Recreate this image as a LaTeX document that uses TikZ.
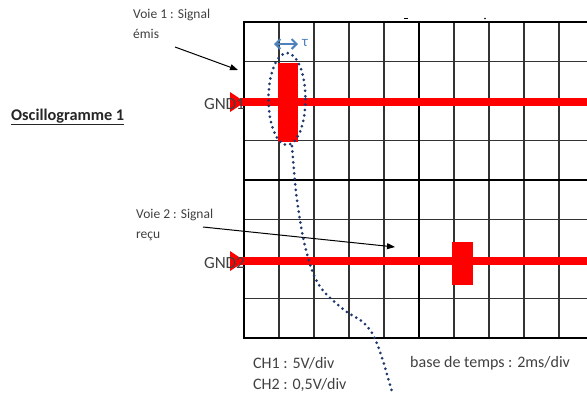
\documentclass[tikz,border=0pt]{standalone}
\usepackage{fontspec}
\setmainfont{Carlito}
\usetikzlibrary{arrows.meta}
\definecolor{txtgray}{RGB}{64,64,64}
\definecolor{taublue}{RGB}{79,129,189}
\definecolor{dotnavy}{RGB}{31,56,110}
\definecolor{sigred}{RGB}{255,0,0}
\tikzset{
  thinline/.style={line width=1.3pt, black!80},
  thickline/.style={line width=2.6pt, black},
  sigline/.style={line width=8pt, sigred},
  pulse/.style={fill=sigred, draw=none},
  gndtri/.style={fill=sigred, draw=none},
  lbl/.style={inner sep=0pt, text=txtgray, font=\fontsize{13.5}{19.5}\selectfont, align=left},
  gndlbl/.style={inner sep=0pt, text=txtgray, font=\fontsize{17}{20}\selectfont},
  botlbl/.style={inner sep=0pt, text=txtgray, font=\fontsize{16}{22}\selectfont, anchor=west},
  pointer/.style={line width=1pt, black, -{Triangle[length=8pt,width=6pt]}},
  dots/.style={dotnavy, line width=3pt, line cap=round, dash pattern=on 0pt off 5.5pt},
}
\begin{document}
\begin{tikzpicture}[x=1pt,y=-1pt]
\useasboundingbox (0,0) rectangle (587,394);
% grid
\foreach \i in {1,2,3,4,6,7,8,9} \draw[thinline] ({244+35*\i},22) -- ({244+35*\i},338);
\foreach \j in {1,2,3,5,6,7} \draw[thinline] (244,{22+39.5*\j}) -- (587,{22+39.5*\j});
\draw[thickline] (587,22) -- (244,22) -- (244,338) -- (587,338);
\draw[thickline] (419,22) -- (419,338);
\draw[thickline] (244,180) -- (587,180);
% small marks at top
\draw[line width=1.5pt] (404,18.5) -- (408,18.5);
\fill (485,18.5) circle (0.8pt);
% channel 1
\draw[sigline] (240,102) -- (587,102);
\fill[pulse] (278,63) rectangle (298,142);
\fill[gndtri] (230,92) -- (245,102) -- (230,112) -- cycle;
\node[gndlbl, anchor=east] (gnd1) at (245,104) {GND1};
% channel 2
\draw[sigline] (240,261) -- (587,261);
\fill[pulse] (452,242) rectangle (473,285);
\fill[gndtri] (230,251) -- (245,261) -- (230,271) -- cycle;
\node[gndlbl, anchor=east] (gnd2) at (245,263) {GND2};
% labels
\node[lbl, anchor=north west] (v1) at (133,9) {Voie 1 : Signal\\émis};
\coordinate (a1s) at (175,47);
\coordinate (a1e) at (238,70);
\draw[pointer] (a1s) -- (a1e);
\node[lbl, anchor=north west] (v2) at (136,209) {Voie 2 : Signal\\reçu};
\coordinate (a2s) at (203,227);
\coordinate (a2e) at (395,247);
\draw[pointer] (a2s) -- (a2e);
\node[inner sep=0pt, anchor=west, font=\fontsize{16.3}{18}\selectfont\bfseries, text=black!85] (title) at (11,117) {\underline{Oscillogramme 1}};
% tau
\coordinate (t1) at (274,44);
\coordinate (t2) at (298,44);
\draw[taublue, line width=2pt, {Straight Barb[length=5pt,width=10pt]}-{Straight Barb[length=5pt,width=10pt]}] (t1) -- (t2);
\node[inner sep=0pt, anchor=west, text=taublue, font=\fontsize{15}{16}\selectfont] (tau) at (302,43) {τ};
% dotted ellipse and tail
\draw[dots] (287,99) ellipse [x radius=18.5, y radius=46];
\draw[dots] plot[smooth, tension=0.6] coordinates {(292,146) (297,200) (306,250) (319,285) (343,309) (365,324) (378,346) (392,392)};
% bottom text
\node[botlbl] (ch1) at (253,363) {CH1 : 5V/div};
\node[botlbl] (ch2) at (253,385) {CH2 : 0,5V/div};
\node[botlbl] (base) at (410,363) {base de temps : 2ms/div};
\end{tikzpicture}
\end{document}
